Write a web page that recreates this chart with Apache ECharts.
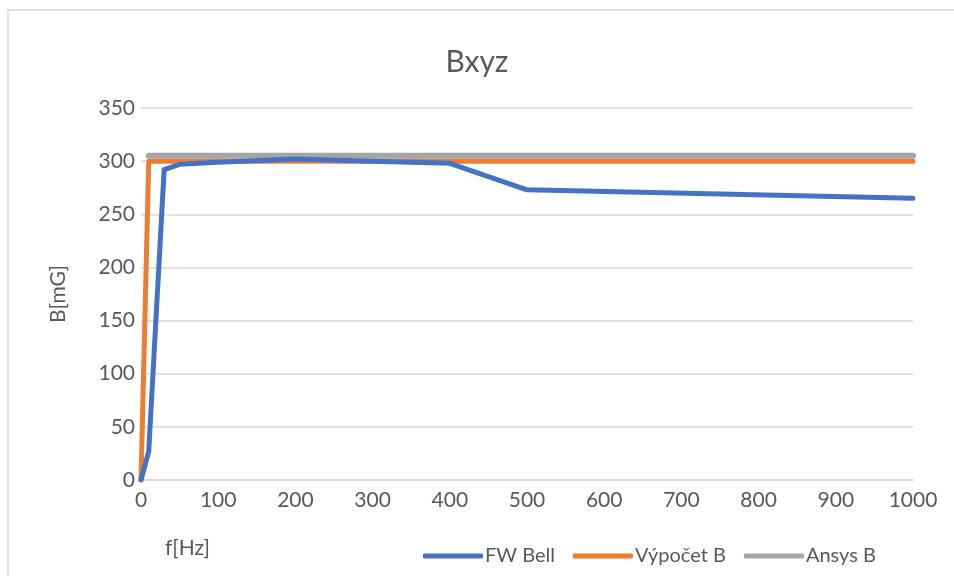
<!DOCTYPE html>
<html>
<head>
<meta charset="utf-8">
<script src="https://cdn.jsdelivr.net/npm/echarts@6/dist/echarts.min.js"></script>
<style>
html,body{margin:0;padding:0;background:#fff;}
#chart{width:954px;height:576px;}
</style>
</head>
<body>
<div id="chart"></div>
<script>
// frequency [Hz] and field [mG]
var freq = [0, 10, 30, 50, 100, 200, 300, 400, 500, 1000];
var fwBell = [0, 27, 292, 297, 299, 302, 300, 298, 273, 265];
var vypocet = [0, 300, 300, 300, 300, 300, 300, 300, 300, 300];
var ansys = [null, 305, 305, 305, 305, 305, 305, 305, 305, 305];

function pairs(xs, ys){
  var arr = [];
  for (var i = 0; i < xs.length; i++) {
    if (ys[i] !== null) arr.push([xs[i], ys[i]]);
  }
  return arr;
}

var font = 'Lato';
var txt = '#595959';
var fs = 21;

var chart = echarts.init(document.getElementById('chart'));
chart.setOption({
  backgroundColor: '#fff',
  animation: false,
  graphic: [{
    type: 'rect',
    shape: {x: 8, y: 10, width: 960, height: 600},
    style: {fill: 'none', stroke: '#d9d9d9', lineWidth: 1.5},
    silent: true
  }, {
    type: 'text',
    left: 165,
    top: 538,
    style: {text: 'f[Hz]', fontFamily: font, fontSize: fs, fill: txt},
    silent: true
  }],
  title: {
    text: 'Bxyz',
    left: 'center',
    top: 42,
    textStyle: {fontFamily: font, fontSize: 30, fontWeight: 'normal', color: txt}
  },
  legend: {
    left: 418,
    top: 541,
    itemWidth: 60,
    itemHeight: 5,
    itemGap: 18,
    icon: 'roundRect',
    textStyle: {fontFamily: font, fontSize: 20, color: txt, padding: [0, 0, 0, -3]},
    data: ['FW Bell', 'Výpočet B', 'Ansys B']
  },
  grid: {left: 141, right: 41, top: 108, bottom: 96},
  xAxis: {
    type: 'value',
    min: 0, max: 1000, interval: 100,
    axisLine: {show: true, lineStyle: {color: '#d9d9d9', width: 1.5}},
    axisTick: {show: false},
    splitLine: {show: false},
    axisLabel: {fontFamily: font, fontSize: fs, color: txt, margin: 10,
      formatter: function(v){ return String(v); }}
  },
  yAxis: {
    type: 'value',
    min: 0, max: 350, interval: 50,
    name: 'B[mG]',
    nameLocation: 'middle',
    nameGap: 72,
    nameRotate: 90,
    nameTextStyle: {fontFamily: font, fontSize: fs, color: txt},
    axisLine: {show: false},
    axisTick: {show: false},
    splitLine: {lineStyle: {color: '#d9d9d9', width: 1.5}},
    axisLabel: {fontFamily: font, fontSize: fs, color: txt, margin: 6}
  },
  series: [
    {
      name: 'FW Bell', type: 'line', z: 5,
      data: pairs(freq, fwBell),
      showSymbol: false, symbol: 'none',
      itemStyle: {color: '#4472C4'},
      lineStyle: {color: '#4472C4', width: 5, cap: 'round', join: 'round'}
    },
    {
      name: 'Výpočet B', type: 'line', z: 3,
      data: pairs(freq, vypocet),
      showSymbol: false, symbol: 'none',
      itemStyle: {color: '#ED7D31'},
      lineStyle: {color: '#ED7D31', width: 5, cap: 'round', join: 'round'}
    },
    {
      name: 'Ansys B', type: 'line', z: 2,
      data: pairs(freq, ansys),
      showSymbol: false, symbol: 'none',
      itemStyle: {color: '#A5A5A5'},
      lineStyle: {color: '#A5A5A5', width: 6, cap: 'round', join: 'round'}
    }
  ]
});
</script>
</body>
</html>
